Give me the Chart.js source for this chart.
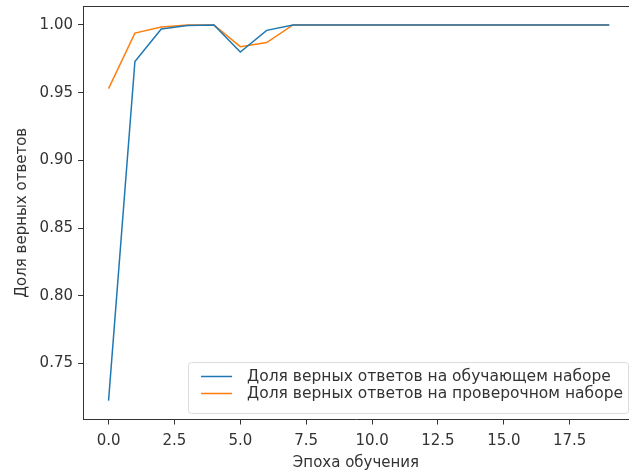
<!DOCTYPE html>
<html>
<head>
<meta charset="utf-8">
<script src="https://cdn.jsdelivr.net/npm/chart.js@4/dist/chart.umd.min.js"></script>
<style>
    html, body { margin: 0; padding: 0; background: #fff; overflow: hidden; }
</style>
</head>
<body>
<canvas id="accuracy-chart" width="629" height="472"></canvas>
<script>
// Эпохи обучения
const epochs = [0, 1, 2, 3, 4, 5, 6, 7, 8, 9, 10, 11, 12, 13, 14, 15, 16, 17, 18, 19];

// Доля верных ответов на обучающем наборе
const trainAcc = [0.7225, 0.973, 0.997, 0.9996, 1.0, 0.980, 0.996, 1.0, 1.0, 1.0,
    1.0, 1.0, 1.0, 1.0, 1.0, 1.0, 1.0, 1.0, 1.0, 1.0];

// Доля верных ответов на проверочном наборе
const valAcc = [0.953, 0.994, 0.9985, 1.0, 1.0, 0.984, 0.987, 1.0, 1.0, 1.0,
    1.0, 1.0, 1.0, 1.0, 1.0, 1.0, 1.0, 1.0, 1.0, 1.0];

const xTicks = [0, 2.5, 5, 7.5, 10, 12.5, 15, 17.5];
const yTicks = [0.75, 0.80, 0.85, 0.90, 0.95, 1.00];

const FONT = "'DejaVu Sans', sans-serif";
const FONT_SIZE = 15;
const INK = "#333333";

function toPoints(values) {
    return epochs.map((e, i) => ({ x: e, y: values[i] }));
}

// Верхняя граница осей (правая уходит за край картинки, как в исходнике)
const framePlugin = {
    id: "frame",
    afterDraw(chart) {
        const { ctx, chartArea: a } = chart;
        ctx.save();
        ctx.strokeStyle = INK;
        ctx.lineWidth = 1;
        ctx.beginPath();
        ctx.moveTo(Math.round(a.left), Math.round(a.top) + 0.5);
        ctx.lineTo(chart.width, Math.round(a.top) + 0.5);
        ctx.stroke();
        ctx.restore();
    }
};

// Легенда в правом нижнем углу внутри области графика
const legendPlugin = {
    id: "innerLegend",
    afterDraw(chart) {
        const { ctx, chartArea: a } = chart;
        const sets = chart.data.datasets;
        ctx.save();
        ctx.font = "15.5px " + FONT;
        const textW = Math.max(...sets.map((d) => ctx.measureText(d.label).width));
        const padL = 13, padR = 5, padT = 6.5, padB = 10.5, handle = 31, gap = 15, rowH = 17;
        const w = padL + handle + gap + textW + padR;
        const h = padT + padB + rowH * sets.length;
        const right = a.right - 1;
        const bottom = a.bottom - 7;
        const left = right - w;
        const top = bottom - h;

        ctx.fillStyle = "rgba(255,255,255,0.8)";
        ctx.strokeStyle = "#dcdcdc";
        ctx.lineWidth = 1;
        ctx.beginPath();
        ctx.roundRect(Math.round(left) + 0.5, Math.round(top) + 0.5, Math.round(w), Math.round(h), 3);
        ctx.fill();
        ctx.stroke();

        ctx.textBaseline = "middle";
        ctx.textAlign = "left";
        sets.forEach((d, i) => {
            const cy = top + padT + rowH * i + rowH / 2;
            ctx.strokeStyle = d.borderColor;
            ctx.lineWidth = 1.5;
            ctx.beginPath();
            ctx.moveTo(left + padL, cy);
            ctx.lineTo(left + padL + handle, cy);
            ctx.stroke();
            ctx.fillStyle = INK;
            ctx.fillText(d.label, left + padL + handle + gap, cy);
        });
        ctx.restore();
    }
};

const ctx = document.getElementById("accuracy-chart").getContext("2d");
new Chart(ctx, {
    type: "line",
    data: {
        datasets: [
            {
                label: "Доля верных ответов на обучающем наборе",
                data: toPoints(trainAcc),
                borderColor: "#1f77b4",
                borderWidth: 1.5,
                pointRadius: 0,
                tension: 0,
                fill: false,
            },
            {
                label: "Доля верных ответов на проверочном наборе",
                data: toPoints(valAcc),
                borderColor: "#ff7f0e",
                borderWidth: 1.5,
                pointRadius: 0,
                tension: 0,
                fill: false,
            },
        ],
    },
    options: {
        responsive: false,
        animation: false,
        layout: { padding: { top: 6, right: 0, left: 0, bottom: 0 } },
        plugins: {
            legend: { display: false },
            tooltip: { enabled: false },
        },
        scales: {
            x: {
                type: "linear",
                min: -0.97,
                max: 19.75,
                afterBuildTicks: (s) => { s.ticks = xTicks.map((v) => ({ value: v })); },
                afterFit: (s) => {
                    s.height = 52.5;
                    s.paddingLeft = 0;
                    s.paddingRight = 0;
                },
                grid: { drawOnChartArea: false, drawTicks: true, tickLength: 5, tickColor: INK },
                border: { display: true, color: INK },
                ticks: {
                    color: INK,
                    padding: 8,
                    maxRotation: 0,
                    font: { family: FONT, size: FONT_SIZE },
                    callback: (v) => Number(v).toFixed(1),
                },
                title: {
                    display: true,
                    text: "Эпоха обучения",
                    color: INK,
                    font: { family: FONT, size: FONT_SIZE },
                    padding: { top: 0, bottom: 0 },
                },
            },
            y: {
                min: 0.7086,
                max: 1.014,
                afterBuildTicks: (s) => { s.ticks = yTicks.map((v) => ({ value: v })); },
                afterFit: (s) => {
                    s.width = 83;
                    s.paddingTop = 0;
                    s.paddingBottom = 0;
                },
                grid: { drawOnChartArea: false, drawTicks: true, tickLength: 5, tickColor: INK },
                border: { display: true, color: INK },
                ticks: {
                    color: INK,
                    padding: 5,
                    font: { family: FONT, size: FONT_SIZE },
                    callback: (v) => Number(v).toFixed(2),
                },
                title: {
                    display: true,
                    text: "Доля верных ответов",
                    color: INK,
                    font: { family: FONT, size: FONT_SIZE },
                    padding: { top: 13, bottom: 0 },
                },
            },
        },
    },
    plugins: [framePlugin, legendPlugin],
});
</script>
</body>
</html>
